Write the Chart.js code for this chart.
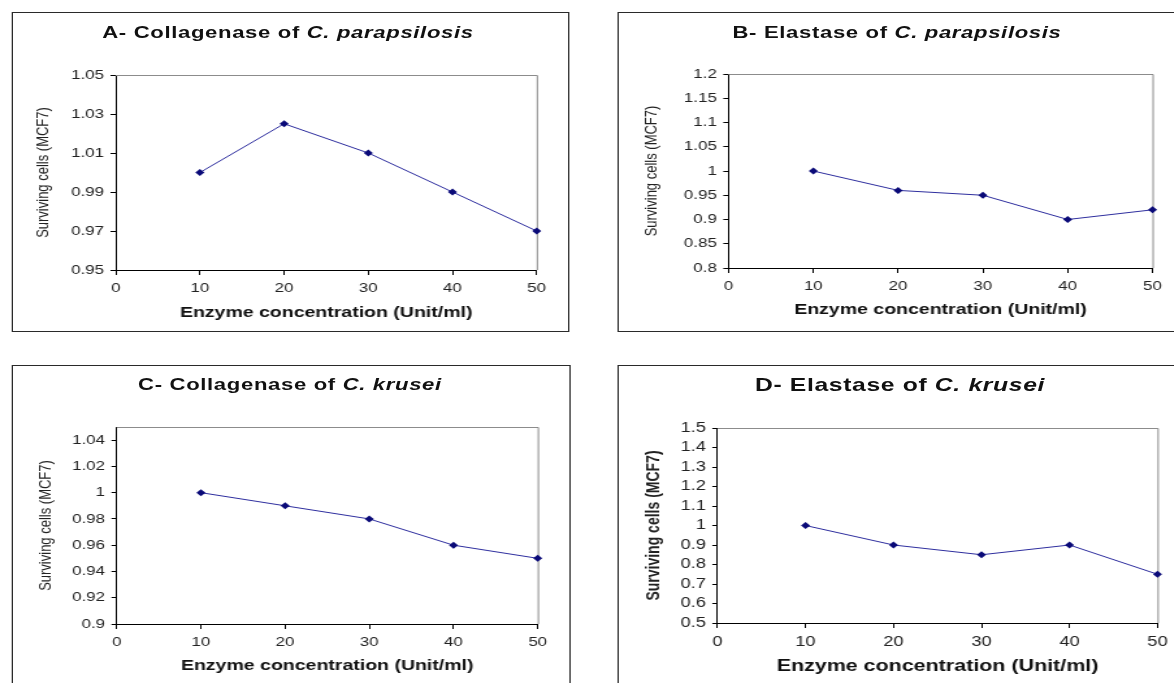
<!DOCTYPE html>
<html>
<head>
<meta charset="utf-8">
<script src="https://cdn.jsdelivr.net/npm/chart.js@4.4.1/dist/chart.umd.min.js"></script>
<style>
    body { margin: 0; background: #fff; width: 1174px; height: 683px; overflow: hidden; }
    /* the original figure is stretched sideways, so the whole stage is too */
    #stage { position: absolute; left: 0; top: 0; width: 904px; height: 683px;
             transform: scaleX(1.3); transform-origin: 0 0; font-family: "Liberation Sans", Arial, sans-serif; }
    .panel { position: absolute; box-sizing: border-box; border: 1.5px solid #2a2a2a; background: #fff; }
    .title { position: absolute; white-space: nowrap; transform: translate(-50%, -50%);
             font-weight: bold; letter-spacing: 0.5px; color: #111; }
    canvas { position: absolute; }
</style>
</head>
<body>
<div id="stage"></div>
<script>
const K = 1.3; // horizontal stretch of the reference

// x values (enzyme concentration, Unit/ml)
const concentrations = [10, 20, 30, 40, 50];
const xTickValues = [0, 10, 20, 30, 40, 50];

// surviving MCF7 cells
const collagenaseParapsilosis = [1.0, 1.025, 1.01, 0.99, 0.97];
const elastaseParapsilosis = [1.0, 0.96, 0.95, 0.90, 0.92];
const collagenaseKrusei = [1.0, 0.99, 0.98, 0.96, 0.95];
const elastaseKrusei = [1.0, 0.90, 0.85, 0.90, 0.75];

// y tick labels and ranges
const yTicksA = [0.95, 0.97, 0.99, 1.01, 1.03, 1.05];
const yTicksB = [0.8, 0.85, 0.9, 0.95, 1, 1.05, 1.1, 1.15, 1.2];
const yTicksC = [0.9, 0.92, 0.94, 0.96, 0.98, 1, 1.02, 1.04];
const yTicksD = [0.5, 0.6, 0.7, 0.8, 0.9, 1, 1.1, 1.2, 1.3, 1.4, 1.5];
const yRangeA = [0.95, 1.05];
const yRangeB = [0.8, 1.2];
const yRangeC = [0.9, 1.05];
const yRangeD = [0.5, 1.5];

const xTitle = 'Enzyme concentration (Unit/ml)';
const yTitle = 'Surviving cells (MCF7)';

const FONT = '"Liberation Sans", Arial, sans-serif';

// draws the grey top/right edges of the plot area (Excel style)
const plotFrame = {
    id: 'plotFrame',
    beforeDatasetsDraw(chart) {
        const { ctx, chartArea: a } = chart;
        ctx.save();
        ctx.strokeStyle = '#8c8c8c';
        ctx.lineWidth = 1;
        ctx.beginPath();
        ctx.moveTo(a.left, a.top + 0.5);
        ctx.lineTo(a.right + 0.5, a.top + 0.5);
        ctx.lineTo(a.right + 0.5, a.bottom);
        ctx.stroke();
        ctx.restore();
    }
};

// page-pixel layout of each panel
const panels = [
    { prefix: 'A- Collagenase of', species: 'C. parapsilosis', values: collagenaseParapsilosis,
      yTicks: yTicksA, yRange: yRangeA, boldY: false, titleSize: 17, xTitleSize: 15, tickSize: 13,
      box: { l: 12, t: 12, r: 570, b: 332 }, plot: { l: 116, t: 75, r: 537, b: 270 },
      titleAt: [288, 33], yTitleX: 44, xTitleY: 313 },
    { prefix: 'B- Elastase of', species: 'C. parapsilosis', values: elastaseParapsilosis,
      yTicks: yTicksB, yRange: yRangeB, boldY: false, titleSize: 17, xTitleSize: 15, tickSize: 13,
      box: { l: 617, t: 12, r: 1190, b: 332 }, plot: { l: 728, t: 74, r: 1152, b: 268 },
      titleAt: [897, 33], yTitleX: 651, xTitleY: 310 },
    { prefix: 'C- Collagenase of', species: 'C. krusei', values: collagenaseKrusei,
      yTicks: yTicksC, yRange: yRangeC, boldY: false, titleSize: 17, xTitleSize: 15, tickSize: 13,
      box: { l: 12, t: 365, r: 571, b: 695 }, plot: { l: 117, t: 427, r: 538, b: 624 },
      titleAt: [290, 385], yTitleX: 46, xTitleY: 666 },
    { prefix: 'D- Elastase of', species: 'C. krusei', values: elastaseKrusei,
      yTicks: yTicksD, yRange: yRangeD, boldY: true, titleSize: 19, xTitleSize: 16.5, tickSize: 14,
      box: { l: 617, t: 365, r: 1190, b: 695 }, plot: { l: 717, t: 428, r: 1157, b: 623 },
      titleAt: [900, 385], yTitleX: 653, xTitleY: 666 }
];

function buildPanel(p) {
    const stage = document.getElementById('stage');

    const frame = document.createElement('div');
    frame.className = 'panel';
    frame.style.left = (p.box.l / K) + 'px';
    frame.style.top = p.box.t + 'px';
    frame.style.width = ((p.box.r - p.box.l) / K) + 'px';
    frame.style.height = (p.box.b - p.box.t) + 'px';
    stage.appendChild(frame);

    const cw = Math.round((p.box.r - p.box.l) / K);
    const ch = p.box.b - p.box.t;
    const canvas = document.createElement('canvas');
    canvas.width = cw;
    canvas.height = ch;
    canvas.style.width = cw + 'px';
    canvas.style.height = ch + 'px';
    canvas.style.left = (p.box.l / K) + 'px';
    canvas.style.top = p.box.t + 'px';
    stage.appendChild(canvas);

    const title = document.createElement('div');
    title.className = 'title';
    title.innerHTML = `${p.prefix} <i>${p.species}</i>`;
    title.style.fontSize = p.titleSize + 'px';
    title.style.left = (p.titleAt[0] / K) + 'px';
    title.style.top = p.titleAt[1] + 'px';
    stage.appendChild(title);

    // plot area inside the canvas
    const plotL = (p.plot.l - p.box.l) / K;
    const plotR = (p.plot.r - p.box.l) / K;
    const plotT = p.plot.t - p.box.t;
    const plotB = p.plot.b - p.box.t;

    const ySize = p.boldY ? 14 : 13;
    const yPad = (p.yTitleX - p.box.l) / K - ySize * 0.6;
    const xPad = (p.box.b - p.xTitleY) - p.xTitleSize * 0.6;

    new Chart(canvas.getContext('2d'), {
        type: 'line',
        data: {
            datasets: [{
                data: concentrations.map((x, i) => ({ x: x, y: p.values[i] })),
                borderColor: '#2e2e9e',
                borderWidth: 1,
                pointStyle: 'rectRot',
                pointRadius: 3.5,
                pointBackgroundColor: '#0a0a78',
                pointBorderColor: '#0a0a78',
                pointBorderWidth: 0,
                tension: 0,
                fill: false,
                clip: false
            }]
        },
        options: {
            responsive: false,
            animation: false,
            devicePixelRatio: 1,
            layout: { padding: { left: 0, top: plotT, right: cw - plotR, bottom: 0 } },
            plugins: { legend: { display: false }, tooltip: { enabled: false } },
            scales: {
                x: {
                    type: 'linear',
                    min: 0,
                    max: 50,
                    afterBuildTicks: s => { s.ticks = xTickValues.map(v => ({ value: v })); },
                    afterFit: s => { s.height = ch - plotB; },
                    grid: { drawOnChartArea: false, drawTicks: true, tickLength: 5, color: '#000' },
                    border: { color: '#000', width: 1 },
                    ticks: { padding: 6, color: '#222', maxRotation: 0, autoSkip: false,
                             font: { family: FONT, size: p.tickSize } },
                    title: { display: true, text: xTitle, color: '#111',
                             font: { family: FONT, size: p.xTitleSize, weight: 'bold' },
                             padding: { top: 0, bottom: xPad } }
                },
                y: {
                    type: 'linear',
                    min: p.yRange[0],
                    max: p.yRange[1],
                    afterBuildTicks: s => { s.ticks = p.yTicks.map(v => ({ value: v })); },
                    afterFit: s => { s.width = plotL; },
                    grid: { drawOnChartArea: false, drawTicks: true, tickLength: 4, color: '#000' },
                    border: { color: '#000', width: 1 },
                    ticks: { padding: 5, color: '#222', autoSkip: false,
                             font: { family: FONT, size: p.tickSize },
                             callback: v => String(v) },
                    title: { display: true, text: yTitle, color: '#222',
                             font: { family: FONT, size: ySize, weight: p.boldY ? 'bold' : 'normal' },
                             padding: { top: yPad, bottom: 0 } }
                }
            }
        },
        plugins: [plotFrame]
    });
}

document.addEventListener('DOMContentLoaded', () => {
    panels.forEach(buildPanel);
});
</script>
</body>
</html>
